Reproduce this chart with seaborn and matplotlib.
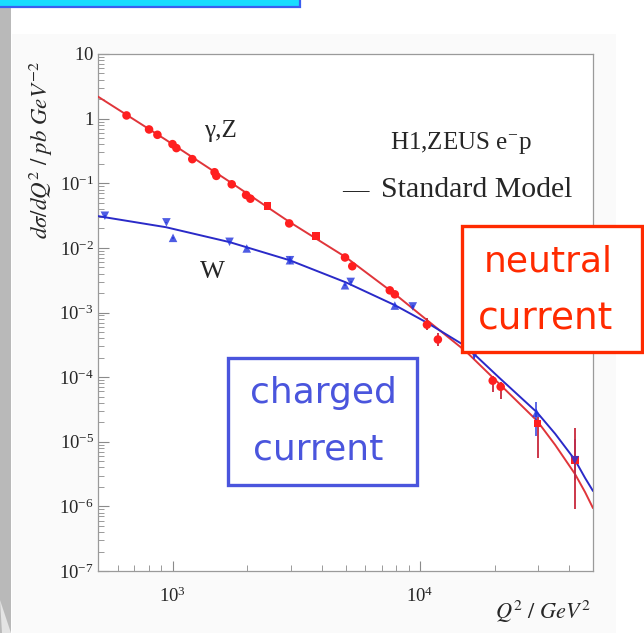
import math
import matplotlib
matplotlib.use("Agg")
import matplotlib.pyplot as plt
import seaborn as sns
import pandas as pd
from matplotlib.patches import Rectangle, Polygon
from matplotlib.ticker import FixedLocator, FuncFormatter, LogLocator, NullFormatter

# Standard Model predictions, dsigma/dQ2 in pb/GeV^2
q2_model = [500, 940, 1702, 2972, 5012, 7943, 10715, 15346, 20893, 29717,
            35156, 42267, 46452, 50000]
nc_model = [2.19, 0.470, 0.1055, 0.0251, 0.00718, 0.00191, 7.53e-4, 2.49e-4,
            7.9e-5, 2.11e-5, 8.95e-6, 3.18e-6, 1.66e-6, 9.4e-7]
cc_model = [0.0310, 0.0209, 0.01227, 0.00644, 0.00293, 0.00129, 6.9e-4,
            2.98e-4, 9.8e-5, 2.84e-5, 1.33e-5, 5.24e-6, 2.75e-6, 1.73e-6]

# Neutral-current (gamma, Z) measurements
nc_q2 = [652, 804, 869, 1000, 1037, 1202, 1479, 1503, 1735, 1983, 2064, 2421,
         2962, 3793, 4977, 5325, 7551, 7910, 10670, 11810, 19670, 21180,
         29850, 42200]
nc_xs = [1.12, 0.68, 0.562, 0.403, 0.35, 0.236, 0.148, 0.13, 0.0964, 0.0658,
         0.0577, 0.0445, 0.0239, 0.0152, 0.0071, 0.0052, 0.0022, 0.00191,
         6.47e-4, 3.82e-4, 8.8e-5, 7.1e-5, 1.92e-5, 5.18e-6]
nc_lo = [1.08, 0.66, 0.545, 0.39, 0.34, 0.229, 0.143, 0.126, 0.093, 0.063,
         0.0555, 0.0428, 0.0229, 0.0145, 0.0067, 0.0049, 0.0020, 0.00175,
         5.27e-4, 3.08e-4, 5.8e-5, 4.6e-5, 5.7e-6, 9.0e-7]
nc_hi = [1.16, 0.70, 0.58, 0.416, 0.36, 0.243, 0.153, 0.134, 0.0998, 0.0686,
         0.0600, 0.0463, 0.0249, 0.0159, 0.0075, 0.0055, 0.0024, 0.00208,
         8.1e-4, 4.9e-4, 1.05e-4, 8.3e-5, 2.38e-5, 1.66e-5]
nc_mark = ["o", "o", "o", "o", "o", "o", "o", "o", "o", "o", "o", "s",
           "o", "s", "o", "o", "o", "o", "o", "o", "o", "o", "s", "s"]

# Charged-current (W) measurements
cc_q2 = [533, 945, 1005, 1700, 1995, 2982, 2982, 4977, 5248, 7910, 9350,
         16600, 29540, 42200]
cc_xs = [0.0314, 0.0248, 0.0143, 0.0124, 0.0098, 0.00644, 0.00644, 0.00264,
         0.00297, 0.00128, 0.00124, 2.23e-4, 2.8e-5, 5.18e-6]
cc_lo = [0.0305, 0.0241, 0.0139, 0.0120, 0.0095, 0.00625, 0.00625, 0.00255,
         0.00287, 0.00123, 0.00119, 1.9e-4, 1.24e-5, 2.6e-6]
cc_hi = [0.0323, 0.0255, 0.0147, 0.0128, 0.0101, 0.00663, 0.00663, 0.00273,
         0.00307, 0.00133, 0.00129, 2.6e-4, 4.06e-5, 1.1e-5]
cc_mark = ["v", "v", "^", "v", "^", "v", "^", "^", "v", "^", "v", "v", "^", "v"]

y_ticks = [1e1, 1e0, 1e-1, 1e-2, 1e-3, 1e-4, 1e-5, 1e-6, 1e-7]
x_ticks = [1e3, 1e4]

RED_LINE = "#e0353a"
RED_PT = "#ff1f1f"
RED_ERR = "#c8283c"
BLUE_LINE = "#2a2ac8"
BLUE_PT = "#2233dd"
INK = "#262626"

sns.set_theme(style="white")
plt.rcParams["font.family"] = ["Liberation Serif", "DejaVu Serif"]
plt.rcParams["mathtext.fontset"] = "stix"

W, H = 644, 633
fig = plt.figure(figsize=(W / 100, H / 100), dpi=100)
fig.patch.set_facecolor("white")


def fx(x):
    return x / W


def fy(y):
    return 1 - y / H


# page decorations around the figure
fig.add_artist(Rectangle((fx(12), 0), fx(604), fy(34),
                         transform=fig.transFigure, facecolor="#fafafa",
                         edgecolor="none", zorder=0))
fig.add_artist(Rectangle((0, 0), fx(11), fy(7), transform=fig.transFigure,
                         facecolor="#b9b9b9", edgecolor="none", zorder=1))
fig.add_artist(Polygon([(fx(0), fy(600)), (fx(11), fy(633)), (fx(2), fy(633))],
                       closed=True, transform=fig.transFigure,
                       facecolor="#e4e4e4", edgecolor="none", zorder=2))
fig.add_artist(Rectangle((fx(-2), fy(7)), fx(302), fy(-5) - fy(7),
                         transform=fig.transFigure, facecolor="#18dcff",
                         edgecolor="#3a5ef0", linewidth=1.6, zorder=2))

ax = fig.add_axes([fx(98), fy(571), fx(495), 517 / H])
ax.set_facecolor("white")
ax.set_xscale("log")
ax.set_yscale("log")
ax.set_xlim(500, 50000)
ax.set_ylim(1e-7, 10)

# model curves
sns.lineplot(x=q2_model, y=nc_model, ax=ax, color=RED_LINE, linewidth=1.4,
             estimator=None, sort=False, zorder=3)
sns.lineplot(x=q2_model, y=cc_model, ax=ax, color=BLUE_LINE, linewidth=1.4,
             estimator=None, sort=False, zorder=3)

# measurement uncertainties
ax.vlines(cc_q2, cc_lo, cc_hi, color=BLUE_PT, linewidth=1.3, alpha=0.8, zorder=4)
ax.vlines(nc_q2, nc_lo, nc_hi, color=RED_ERR, linewidth=1.3, zorder=4.5)

nc_df = pd.DataFrame({"q2": nc_q2, "xs": nc_xs, "m": nc_mark})
cc_df = pd.DataFrame({"q2": cc_q2, "xs": cc_xs, "m": cc_mark})
for m, sub in nc_df.groupby("m"):
    sns.scatterplot(data=sub, x="q2", y="xs", ax=ax, marker=m, color=RED_PT,
                    s=38 if m == "o" else 32, edgecolor="none", zorder=5)
for m, sub in cc_df.groupby("m"):
    sns.scatterplot(data=sub, x="q2", y="xs", ax=ax, marker=m, color=BLUE_PT,
                    s=38, edgecolor="none", alpha=0.8, zorder=6)

# axes styling
for sp in ax.spines.values():
    sp.set_color("#9a9a9a")
    sp.set_linewidth(0.9)
ax.yaxis.set_major_locator(FixedLocator(y_ticks))
ax.yaxis.set_minor_locator(LogLocator(base=10, subs=range(2, 10), numticks=20))
ax.xaxis.set_major_locator(FixedLocator(x_ticks))
ax.xaxis.set_minor_locator(LogLocator(base=10, subs=range(2, 10), numticks=20))
ax.yaxis.set_minor_formatter(NullFormatter())
ax.xaxis.set_minor_formatter(NullFormatter())


def fmt_y(v, _):
    e = int(round(math.log10(v)))
    if e == 1:
        return r"$\mathregular{10}\;\;$"
    if e == 0:
        return r"$\mathregular{1}\;\;\;$"
    return r"$\mathregular{10^{%d}}$" % e


def fmt_x(v, _):
    e = int(round(math.log10(v)))
    return r"$\mathregular{10^{%d}}$" % e


ax.yaxis.set_major_formatter(FuncFormatter(fmt_y))
ax.xaxis.set_major_formatter(FuncFormatter(fmt_x))
ax.tick_params(which="both", direction="in", color="#8a8a8a", labelcolor=INK,
               labelsize=13.5, left=True, bottom=True, top=False, right=False)
ax.tick_params(axis="y", which="major", length=8, width=0.8, pad=3)
ax.tick_params(axis="y", which="minor", length=4, width=0.6)
ax.tick_params(axis="x", which="major", length=7, width=0.8, pad=11)
ax.tick_params(axis="x", which="minor", length=4, width=0.6)
ax.set_xlabel("")
ax.set_ylabel("")

# axis titles
fig.text(fx(41), fy(150), r"$d\sigma/dQ^{2}\ /\ pb\ GeV^{-2}$", rotation=90,
         ha="center", va="center", fontsize=16.5, color=INK)
fig.text(fx(591), fy(612), r"$Q^{2}\ /\ GeV^{2}$", ha="right", va="center",
         fontsize=16, color=INK)

# in-plot labels
fig.text(fx(220), fy(131), "γ,Z", ha="center", va="center", fontsize=18,
         color=INK)
fig.text(fx(212), fy(272), "W", ha="center", va="center", fontsize=19,
         color=INK)
fig.text(fx(390), fy(143), r"H1,ZEUS e$^{\mathregular{-}}$p", ha="left",
         va="center", fontsize=18, color=INK)
fig.text(fx(342), fy(190), "—", ha="left", va="center", fontsize=19, color=INK)
fig.text(fx(381), fy(190), "Standard Model", ha="left", va="center",
         fontsize=21.5, color=INK)

# highlighted boxes
fig.add_artist(Rectangle((fx(462), fy(352)), fx(180), 126 / H,
                         transform=fig.transFigure, facecolor="white",
                         edgecolor="#ff2a00", linewidth=2.4, zorder=10))
fig.text(fx(548), fy(262), "neutral", ha="center", va="center", fontsize=26,
         family="DejaVu Sans", color="#ff2a00", zorder=11)
fig.text(fx(546), fy(319), "current", ha="center", va="center", fontsize=27,
         family="DejaVu Sans", color="#ff2a00", zorder=11)

fig.add_artist(Rectangle((fx(228), fy(485)), fx(189), 127 / H,
                         transform=fig.transFigure, facecolor="white",
                         edgecolor="#4a55dd", linewidth=2.4, zorder=10))
fig.text(fx(323), fy(393), "charged", ha="center", va="center", fontsize=26,
         family="DejaVu Sans", color="#4a55dd", zorder=11)
fig.text(fx(318), fy(450), "current", ha="center", va="center", fontsize=26,
         family="DejaVu Sans", color="#4a55dd", zorder=11)

fig.savefig("out.png", dpi=100)
